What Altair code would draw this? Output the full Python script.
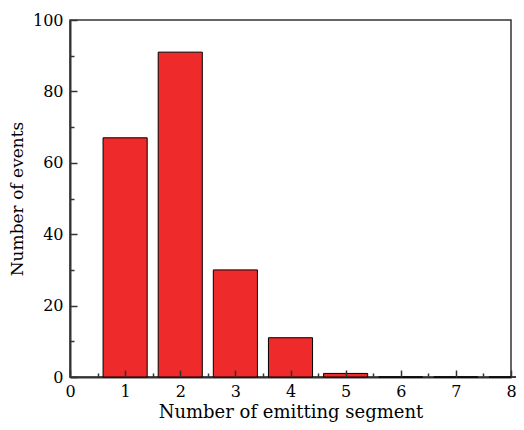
import altair as alt
import pandas as pd

segments = [1, 2, 3, 4, 5, 6, 7, 8]
events = [67, 91, 30, 11, 1, 0, 0, 0]
x_major = [0, 1, 2, 3, 4, 5, 6, 7, 8]
x_minor = [0.5, 1.5, 2.5, 3.5, 4.5, 5.5, 6.5, 7.5]
y_major = [0, 20, 40, 60, 80, 100]
y_minor = [10, 30, 50, 70, 90]

df = pd.DataFrame({"seg": segments, "n": events})

FONT = "DejaVu Serif"
W, H = 441, 357
AX = "#333333"

xs = alt.Scale(domain=[0, 8], nice=False, zero=False)
ys = alt.Scale(domain=[0, 100], nice=False)

base = alt.Chart(df).transform_calculate(lo="datum.seg - 0.4", hi="datum.seg + 0.4")

bars = base.mark_bar(color="#ee2a2a", stroke="black", strokeWidth=1).encode(
    x=alt.X("lo:Q", scale=xs, axis=alt.Axis(
        values=x_major, ticks=False, grid=False, domain=True, domainColor=AX, domainWidth=2,
        labelFont=FONT, labelFontSize=16, labelColor="black", labelPadding=6, labelFlush=False,
        title="Number of emitting segment", titleFont=FONT, titleFontSize=18,
        titleFontWeight="normal", titleColor="black", titlePadding=4)),
    x2="hi:Q",
    y=alt.Y("n:Q", scale=ys, axis=alt.Axis(
        values=y_major, ticks=False, grid=False, domain=True, domainColor=AX, domainWidth=2,
        labelFont=FONT, labelFontSize=16, labelColor="black", labelPadding=7,
        title="Number of events", titleFont=FONT, titleFontSize=17,
        titleFontWeight="normal", titleColor="black", titlePadding=6)),
    y2=alt.datum(0),
)

major = base.mark_point(opacity=0).encode(
    x=alt.X("lo:Q", scale=xs, axis=alt.Axis(
        orient="top", offset=-H, values=x_major, labels=False, domain=False, grid=False,
        ticks=True, tickSize=7, tickColor=AX, tickWidth=1.5, title="", zindex=1)),
    y=alt.Y("n:Q", scale=ys, axis=alt.Axis(
        orient="right", offset=-W, values=y_major, labels=False, domain=False, grid=False,
        ticks=True, tickSize=7, tickColor=AX, tickWidth=1.5, title="", zindex=1)),
)

minor = base.mark_point(opacity=0).encode(
    x=alt.X("lo:Q", scale=xs, axis=alt.Axis(
        orient="top", offset=-H, values=x_minor, labels=False, domain=False, grid=False,
        ticks=True, tickSize=4, tickColor=AX, tickWidth=1.5, title="", zindex=1)),
    y=alt.Y("n:Q", scale=ys, axis=alt.Axis(
        orient="right", offset=-W, values=y_minor, labels=False, domain=False, grid=False,
        ticks=True, tickSize=4, tickColor=AX, tickWidth=1.5, title="", zindex=1)),
)

chart = alt.layer(bars, major, minor).resolve_axis(x="independent", y="independent").properties(
    width=W, height=H,
    autosize=alt.AutoSizeParams(type="none"),
    padding={"left": 62, "top": 12, "right": 5, "bottom": 45},
).configure_view(stroke=AX, strokeWidth=1.5)

chart.save("out.html", embed_options={"renderer": "svg", "actions": False})
